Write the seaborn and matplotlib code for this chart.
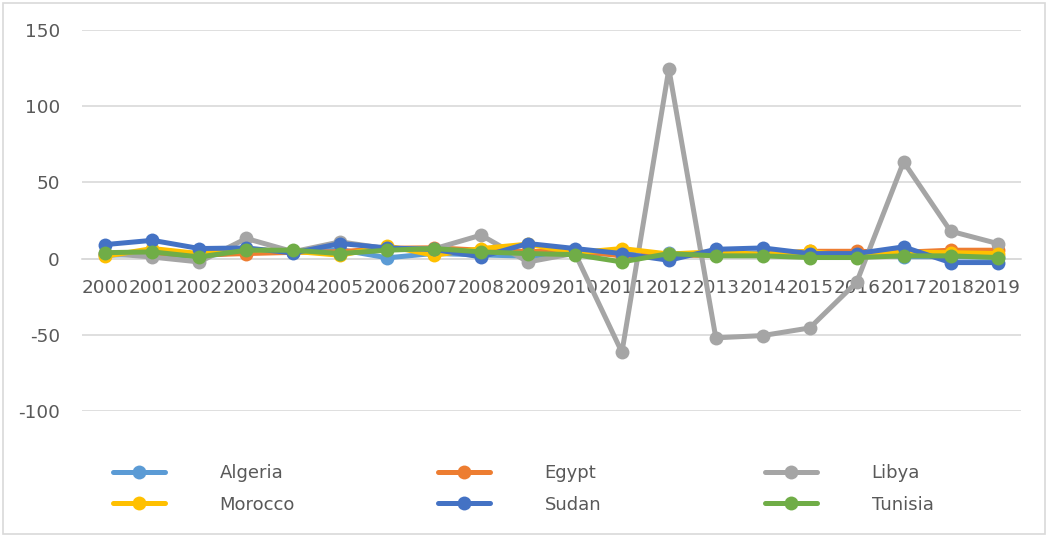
import matplotlib
matplotlib.use("Agg")
import matplotlib.pyplot as plt
from matplotlib.lines import Line2D
from matplotlib.patches import Rectangle
import seaborn as sns
import pandas as pd

years = [2000, 2001, 2002, 2003, 2004, 2005, 2006, 2007, 2008, 2009,
         2010, 2011, 2012, 2013, 2014, 2015, 2016, 2017, 2018, 2019]
algeria = [2.2, 3.0, 1.5, 4.5, 4.3, 5.9, 0.5, 3.4, 2.4, 1.6, 3.6, 2.9, 3.4, 2.8, 3.8, 3.7, 3.2, 1.3, 1.2, 0.8]
egypt = [3.2, 3.5, 2.4, 3.3, 4.1, 4.5, 6.8, 7.1, 5.5, 4.7, 5.1, 1.8, 2.2, 2.2, 2.9, 4.8, 4.8, 4.2, 5.5, 5.5]
libya = [3.5, 1.0, -2.2, 13.2, 4.5, 11.0, 6.5, 6.4, 15.4, -2.2, 3.5, -61.5, 124.5, -52.0, -50.5, -45.5, -15.5, 63.5, 18.0, 9.9]
morocco = [1.6, 6.6, 3.3, 6.0, 4.8, 2.2, 8.3, 2.2, 6.6, 9.5, 3.8, 6.6, 3.0, 4.5, 2.7, 4.8, 1.1, 4.2, 3.9, 3.3]
sudan = [9.2, 12.0, 6.6, 7.0, 3.7, 9.9, 7.0, 6.0, 1.1, 9.9, 6.6, 3.3, -1.1, 6.1, 7.0, 3.3, 3.3, 7.7, -2.6, -2.6]
tunisia = [3.9, 4.4, 1.1, 5.5, 5.5, 3.3, 5.5, 6.6, 4.4, 3.3, 2.6, -2.2, 3.3, 1.8, 1.8, 0.7, 0.7, 1.8, 1.8, 0.7]

countries = ["Algeria", "Egypt", "Libya", "Morocco", "Sudan", "Tunisia"]
series = [algeria, egypt, libya, morocco, sudan, tunisia]
colors = ["#5B9BD5", "#ED7D31", "#A5A5A5", "#FFC000", "#4472C4", "#70AD47"]
yticks = [-100, -50, 0, 50, 100, 150]

rows = []
for c, vals in zip(countries, series):
    for y, v in zip(years, vals):
        rows.append({"Year": y, "Country": c, "Value": v})
df = pd.DataFrame(rows)

sns.set_theme(style="white")
plt.rcParams['font.family'] = ['DejaVu Sans']
txt = "#595959"
grid = "#D9D9D9"

fig = plt.figure(figsize=(10.47, 5.35), dpi=100)
ax = fig.add_axes([82/1047, 1-411/535, (1021-82)/1047, (411-30)/535])

for c, col in zip(countries, colors):
    sns.lineplot(data=df[df["Country"] == c], x="Year", y="Value", ax=ax,
                 color=col, linewidth=3.6, marker="o", markersize=10,
                 markeredgewidth=0, legend=False, errorbar=None)

ax.set_xlim(years[0] - 0.5, years[-1] + 0.5)
ax.set_ylim(-100, 150)
ax.set_yticks(yticks)
ax.set_yticklabels([str(t) for t in yticks])
ax.set_xticks(years)
ax.set_xticklabels([str(y) for y in years])
ax.set_xlabel("")
ax.set_ylabel("")
ax.yaxis.grid(True, color=grid, linewidth=1.2)
ax.set_axisbelow(True)
for s in ["top", "right", "left"]:
    ax.spines[s].set_visible(False)
ax.spines["bottom"].set_position(("data", 0))
ax.spines["bottom"].set_color(grid)
ax.spines["bottom"].set_linewidth(1.2)
ax.spines["bottom"].set_zorder(0)
ax.tick_params(axis="x", length=0, pad=15, labelsize=13.2, labelcolor=txt)
ax.tick_params(axis="y", length=0, pad=16, labelsize=13.2, labelcolor=txt)

# legend: three columns, two rows
col_x = [113, 438, 765]
for j in range(3):
    handles = []
    labels = []
    for i in (j, j + 3):
        handles.append(Line2D([0], [0], color=colors[i], linewidth=3.6,
                              marker="o", markersize=10, markeredgewidth=0))
        labels.append(countries[i])
    leg = fig.legend(handles, labels, loc="upper left",
                     bbox_to_anchor=(col_x[j]/1047, 1-464/535),
                     frameon=False, fontsize=13, handlelength=2.9,
                     handletextpad=3.0, labelspacing=0.75, borderpad=0,
                     borderaxespad=0)
    for t in leg.get_texts():
        t.set_color(txt)

fig.patches.append(Rectangle((3/1047, 1/535), 1042/1047, 531/535,
                             transform=fig.transFigure, fill=False,
                             edgecolor=grid, linewidth=1.2))

fig.savefig("out.png", dpi=100)
